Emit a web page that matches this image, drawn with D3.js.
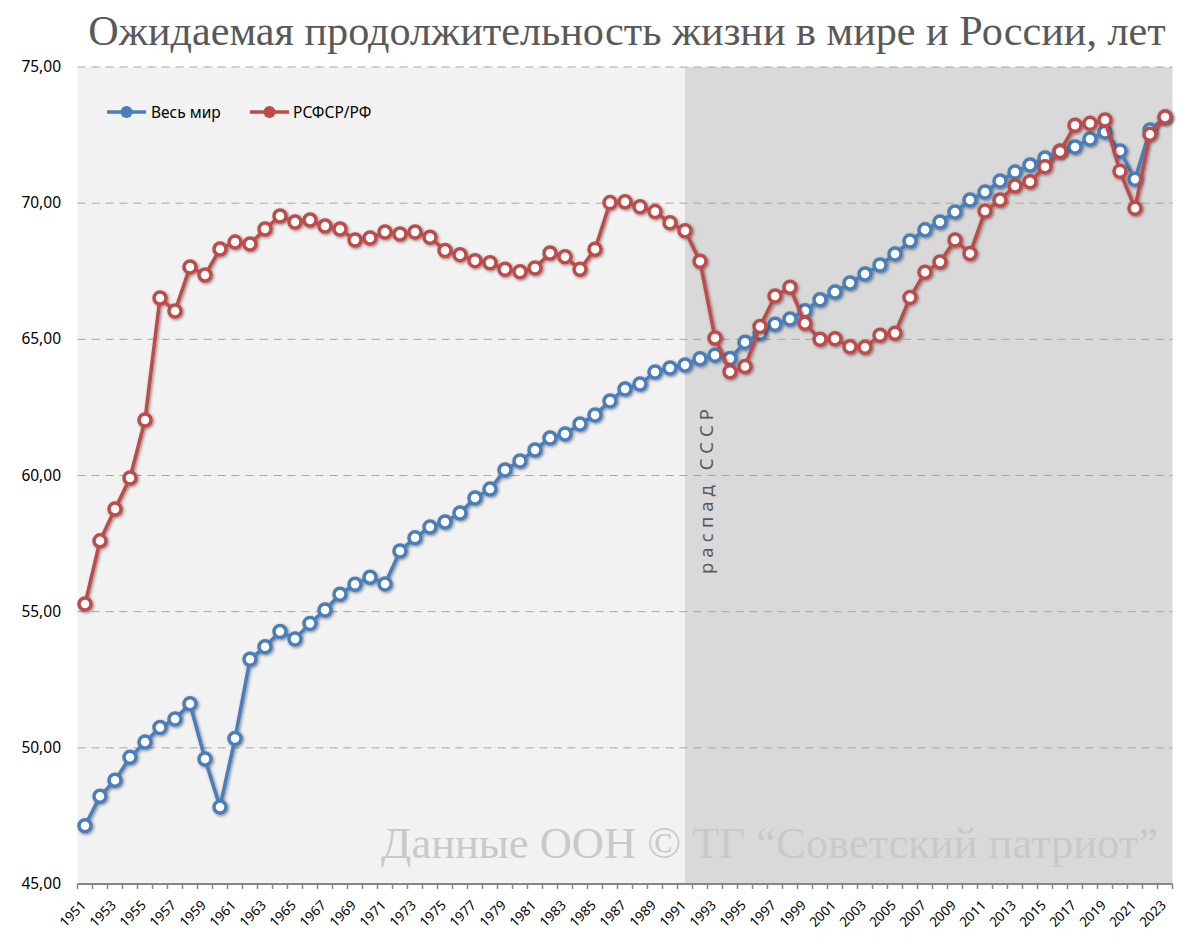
<!DOCTYPE html>
<html><head><meta charset="utf-8">
<script src="https://cdn.jsdelivr.net/npm/d3@7"></script>
<style>body{margin:0;background:#fff}</style></head>
<body><svg id="c" width="1200" height="945"></svg>
<script>
const years = [1951,1952,1953,1954,1955,1956,1957,1958,1959,1960,1961,1962,1963,1964,1965,1966,1967,1968,1969,1970,
1971,1972,1973,1974,1975,1976,1977,1978,1979,1980,1981,1982,1983,1984,1985,1986,1987,1988,1989,1990,
1991,1992,1993,1994,1995,1996,1997,1998,1999,2000,2001,2002,2003,2004,2005,2006,2007,2008,2009,2010,
2011,2012,2013,2014,2015,2016,2017,2018,2019,2020,2021,2022,2023];
const world = [47.14,48.22,48.81,49.65,50.21,50.75,51.06,51.62,49.59,47.83,50.34,53.25,53.71,54.27,54.00,54.57,55.06,55.64,56.01,56.26,
56.02,57.23,57.71,58.11,58.29,58.62,59.17,59.50,60.20,60.53,60.94,61.38,61.52,61.89,62.22,62.74,63.18,63.36,63.80,63.95,
64.06,64.29,64.42,64.30,64.89,65.22,65.55,65.75,66.05,66.45,66.74,67.07,67.40,67.73,68.13,68.61,69.02,69.31,69.68,70.12,
70.41,70.81,71.14,71.40,71.66,71.92,72.06,72.36,72.61,71.92,70.88,72.69,73.16];
const russia = [55.28,57.60,58.77,59.91,62.04,66.52,66.04,67.66,67.36,68.32,68.57,68.50,69.05,69.53,69.31,69.38,69.16,69.05,68.65,68.72,
68.94,68.87,68.94,68.75,68.26,68.11,67.89,67.81,67.57,67.48,67.62,68.17,68.03,67.57,68.31,70.02,70.05,69.87,69.69,69.28,
68.99,67.87,65.05,63.81,64.00,65.47,66.59,66.91,65.59,65.00,65.02,64.73,64.71,65.15,65.22,66.54,67.46,67.84,68.65,68.15,
69.71,70.12,70.63,70.79,71.34,71.90,72.86,72.93,73.05,71.17,69.81,72.53,73.16];
const yTicks = [45,50,55,60,65,70,75];
const seriesNames = ["Весь мир","РСФСР/РФ"];
const colors = ["#4a7ebb","#be4b48"];
const title = "Ожидаемая продолжительность жизни в мире и России, лет";
const watermark = "Данные ООН © ТГ “Советский патриот”";
const eventYear = 1991;
const eventLabel = "распад СССР";

const svg = d3.select("#c");
const L = 77.5, R = 1172.5, T = 67, B = 884;
const x = d3.scaleBand().domain(years).range([L, R]);
const xc = d => x(d) + x.bandwidth()/2;
const y = d3.scaleLinear().domain([45,75]).range([B, T]);

const defs = svg.append("defs");
const f = defs.append("filter").attr("id","sh").attr("x","-20%").attr("y","-20%").attr("width","140%").attr("height","140%");
f.append("feDropShadow").attr("dx",1.2).attr("dy",1.2).attr("stdDeviation",1.6).attr("flood-color","#000").attr("flood-opacity",0.45);

// backgrounds
svg.append("rect").attr("x",L).attr("y",T).attr("width",xc(eventYear)-L).attr("height",B-T).attr("fill","#f2f2f2");
svg.append("rect").attr("x",xc(eventYear)).attr("y",T).attr("width",R-xc(eventYear)).attr("height",B-T).attr("fill","#d9d9d9");

// gridlines
svg.append("g").selectAll("line").data(yTicks.filter(v=>v>45)).join("line")
  .attr("x1",L).attr("x2",R).attr("y1",d=>y(d)).attr("y2",d=>y(d))
  .attr("stroke","#a6a6a6").attr("stroke-width",1).attr("stroke-dasharray","8,6");

// y labels
svg.append("g").selectAll("text").data(yTicks).join("text")
  .attr("x",61).attr("y",d=>y(d)+5).attr("text-anchor","end")
  .attr("font-family","Noto Sans, sans-serif").attr("font-size",15.5).attr("fill","#000")
  .text(d=>d3.format(".2f")(d).replace(".",","));

// x axis
svg.append("line").attr("x1",L).attr("x2",R).attr("y1",B).attr("y2",B).attr("stroke","#868686").attr("stroke-width",2);
const bounds = years.map(d=>x(d)).concat([R]);
svg.append("g").selectAll("line").data(bounds).join("line")
  .attr("x1",d=>d).attr("x2",d=>d).attr("y1",B).attr("y2",B+5).attr("stroke","#868686").attr("stroke-width",1.5);
svg.append("g").selectAll("text").data(years.filter((d,i)=>i%2===0)).join("text")
  .attr("transform",d=>`translate(${xc(d)+2},${B+22}) rotate(-45)`)
  .attr("text-anchor","end")
  .attr("font-family","Noto Sans, sans-serif").attr("font-size",13.5).attr("fill","#000")
  .text(d=>d);

// title
const tt = svg.append("text").attr("x",627).attr("y",45).attr("text-anchor","middle")
  .attr("font-family","Liberation Serif, serif").attr("font-size",36).attr("fill","#595959").text(title);
{const w = tt.node().getComputedTextLength(); tt.attr("font-size",36*1078/w);}

// watermark
const wm = svg.append("text").attr("x",1158).attr("y",858).attr("text-anchor","end")
  .attr("font-family","Liberation Serif, serif").attr("font-size",40).attr("fill","#c9c9c9").text(watermark);
{const w = wm.node().getComputedTextLength(); wm.attr("font-size",40*777/w);}

// event label
const ev = svg.append("text").attr("transform",`translate(${xc(eventYear)+28},574) rotate(-90)`)
  .attr("font-family","Noto Sans, sans-serif").attr("font-size",18.5).attr("letter-spacing",0)
  .attr("fill","#595959").text(eventLabel);
{const w = ev.node().getComputedTextLength(); const n = eventLabel.length; ev.attr("letter-spacing",(165-w)/(n-1));}

// series
const data = [world, russia];
const line = d3.line().x((d,i)=>xc(years[i])).y(d=>y(d));
data.forEach((vals,k)=>{
  const g = svg.append("g").attr("filter","url(#sh)");
  g.append("path").attr("d",line(vals)).attr("fill","none").attr("stroke",colors[k]).attr("stroke-width",3.5).attr("stroke-linejoin","round");
  g.selectAll("circle").data(vals).join("circle")
    .attr("cx",(d,i)=>xc(years[i])).attr("cy",d=>y(d)).attr("r",6)
    .attr("fill","#fff").attr("stroke",colors[k]).attr("stroke-width",3.5);
});

// legend
const leg = [{x:107,tx:151},{x:250,tx:293}];
leg.forEach((p,k)=>{
  const g = svg.append("g");
  g.append("line").attr("x1",p.x).attr("x2",p.x+39).attr("y1",112).attr("y2",112).attr("stroke",colors[k]).attr("stroke-width",3.5);
  g.append("circle").attr("cx",p.x+19.5).attr("cy",112).attr("r",6).attr("fill",colors[k]);
  g.append("text").attr("x",p.tx).attr("y",117.5).attr("font-family","Noto Sans, sans-serif").attr("font-size",15.5).attr("fill","#000").text(seriesNames[k]);
});
</script></body></html>
